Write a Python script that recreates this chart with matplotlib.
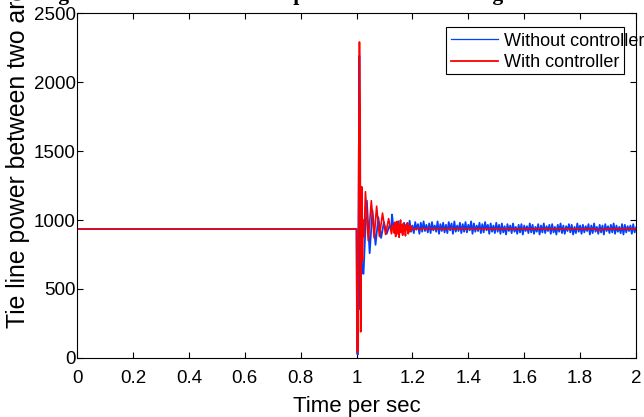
import numpy as np
import matplotlib
matplotlib.use('Agg')
import matplotlib.pyplot as plt
from matplotlib.patches import Rectangle

plt.rcParams['font.family'] = ['Liberation Sans', 'DejaVu Sans']

# steady state before the disturbance (both cases)
time_pre = [0.0, 1.0]
power_pre = [935, 935]

# transient right after t = 1 s, without controller
time_blue_tr = [1.002, 1.005, 1.007, 1.010, 1.012, 1.014, 1.017, 1.020, 1.025,
                1.031, 1.037, 1.047, 1.057, 1.068, 1.078, 1.088, 1.098, 1.108,
                1.118, 1.124, 1.127]
power_blue_tr = [30, 25, 900, 2190, 1500, 350, 1200, 616, 610,
                 900, 1140, 760, 1070, 820, 1020, 870, 985, 900,
                 960, 930, 1040]

# transient right after t = 1 s, with controller
time_red_tr = [1.002, 1.004, 1.006, 1.008, 1.0105, 1.013, 1.015, 1.017, 1.019,
               1.021, 1.024, 1.027, 1.032, 1.042, 1.053, 1.063, 1.072, 1.082,
               1.093, 1.104, 1.115, 1.125, 1.130]
power_red_tr = [50, 40, 70, 1500, 2290, 1800, 190, 800, 1240,
                700, 1000, 880, 1205, 850, 1140, 870, 1100, 880,
                1050, 895, 1010, 900, 960]

# settling jitter with controller, 1.13 .. 1.2 s
power_red_jitter = [960, 905, 985, 880, 950, 990, 900, 970, 875, 945,
                    1000, 910, 960, 890, 975, 920, 955, 885, 965, 930,
                    980, 900, 950, 915, 960, 925, 945]

# steady part with controller, 1.2 .. 2 s
power_red_steady = [940, 932, 943, 930, 941, 934, 944, 931, 940, 935,
                    942, 930, 939, 936, 943, 932, 940, 934, 941, 933,
                    938, 936, 940, 934, 939, 935, 938, 936, 937, 935,
                    938, 936, 937, 935, 938, 936, 937, 936, 938, 935,
                    937, 936, 937, 935, 938, 936, 937, 936, 937, 935,
                    937, 936, 938, 936, 937, 935, 937, 936, 937, 936,
                    937, 936, 937, 935, 937, 936, 930, 926, 932, 937,
                    936, 937, 936, 937, 935, 937, 936, 937, 936, 937, 936]

# noisy band without controller, 1.13 .. 2 s
power_blue_noise = [985, 915, 970, 905, 990, 920, 965, 900, 980, 925,
                    975, 910, 995, 915, 960, 905, 985, 930, 970, 900,
                    980, 915, 990, 920, 965, 910, 975, 905, 985, 925,
                    960, 915, 990, 900, 970, 920, 980, 910, 965, 905,
                    985, 925, 975, 900, 990, 915, 960, 920, 980, 905,
                    970, 915, 985, 910, 965, 925, 990, 900, 975, 915,
                    960, 920, 980, 905, 970, 910, 985, 925, 965, 900,
                    975, 915, 960, 905, 980,
                    915, 965, 900, 975, 910, 955, 895, 970, 920, 960,
                    905, 975, 915, 950, 900, 965, 910, 970, 895, 960,
                    920, 955, 905, 975, 910, 965, 900, 950, 915, 970,
                    895, 960, 910, 975, 905, 955, 920, 965, 900, 970,
                    910, 950, 895, 965, 915, 975, 905, 960, 900, 955,
                    920, 970, 910, 965, 895, 950, 905, 975, 915, 960,
                    900, 965, 910, 955, 920, 970, 895, 960, 905, 975,
                    915, 950, 900, 965, 910, 960, 895, 970, 920, 955,
                    905, 965, 910, 975, 900, 960, 915, 950, 905, 970,
                    895, 965, 910, 955, 920, 960, 900, 970, 910, 945]

t_blue = np.concatenate([time_pre, time_blue_tr,
                         np.linspace(1.13, 2.0, len(power_blue_noise))])
p_blue = np.concatenate([power_pre, power_blue_tr, power_blue_noise])

t_red = np.concatenate([time_pre, time_red_tr,
                        np.linspace(1.1325, 1.1975, len(power_red_jitter)),
                        np.linspace(1.2, 2.0, len(power_red_steady))])
p_red = np.concatenate([power_pre, power_red_tr, power_red_jitter, power_red_steady])

fig = plt.figure(figsize=(6.44, 4.17), dpi=100)
ax = fig.add_axes([0.1196, 0.1415, 0.868, 0.8273])

ax.plot(t_blue, p_blue, color='#0040ff', lw=1.3, label='Without controller')
ax.plot(t_red, p_red, color='#ff0000', lw=1.2, label='With controller')

ax.set_xlim(0, 2)
ax.set_ylim(0, 2500)
ax.set_xticks(np.arange(0, 2.01, 0.2))
ax.set_xticklabels(['0', '0.2', '0.4', '0.6', '0.8', '1', '1.2', '1.4', '1.6', '1.8', '2'])
ax.set_yticks([0, 500, 1000, 1500, 2000, 2500])
ax.tick_params(direction='in', length=4, width=0.8, top=True, right=True, labelsize=13.5)
ax.tick_params(axis='x', pad=9)
ax.tick_params(axis='y', pad=1)
for s in ax.spines.values():
    s.set_linewidth(0.8)

ax.set_xlabel('Time per sec', fontsize=16, labelpad=6)
fig.text(0.028, 89 / 417, 'Tie line power between two areas', rotation=90,
         ha='center', va='bottom', fontsize=17.8)

# title, cut off at the top edge of the picture
fig.text(0.061, 1.0, 'Fig. 5 Simulation of tie line power after fault using controller',
         ha='left', va='baseline', fontsize=15.6, fontweight='bold',
         family='Liberation Serif')

# legend box
ax.add_patch(Rectangle((0.660, 0.823), 0.3185, 0.136, transform=ax.transAxes,
                       fill=False, lw=0.8, ec='black', zorder=5))
leg = ax.legend(loc='upper left', bbox_to_anchor=(0.660, 0.959), frameon=False,
                borderaxespad=0, borderpad=0.3, handlelength=2.6, handletextpad=0.3,
                labelspacing=0.25, fontsize=13)
leg.get_lines()[0].set_linewidth(0.9)
leg.get_lines()[1].set_linewidth(1.3)

fig.savefig('out.png', dpi=100)
